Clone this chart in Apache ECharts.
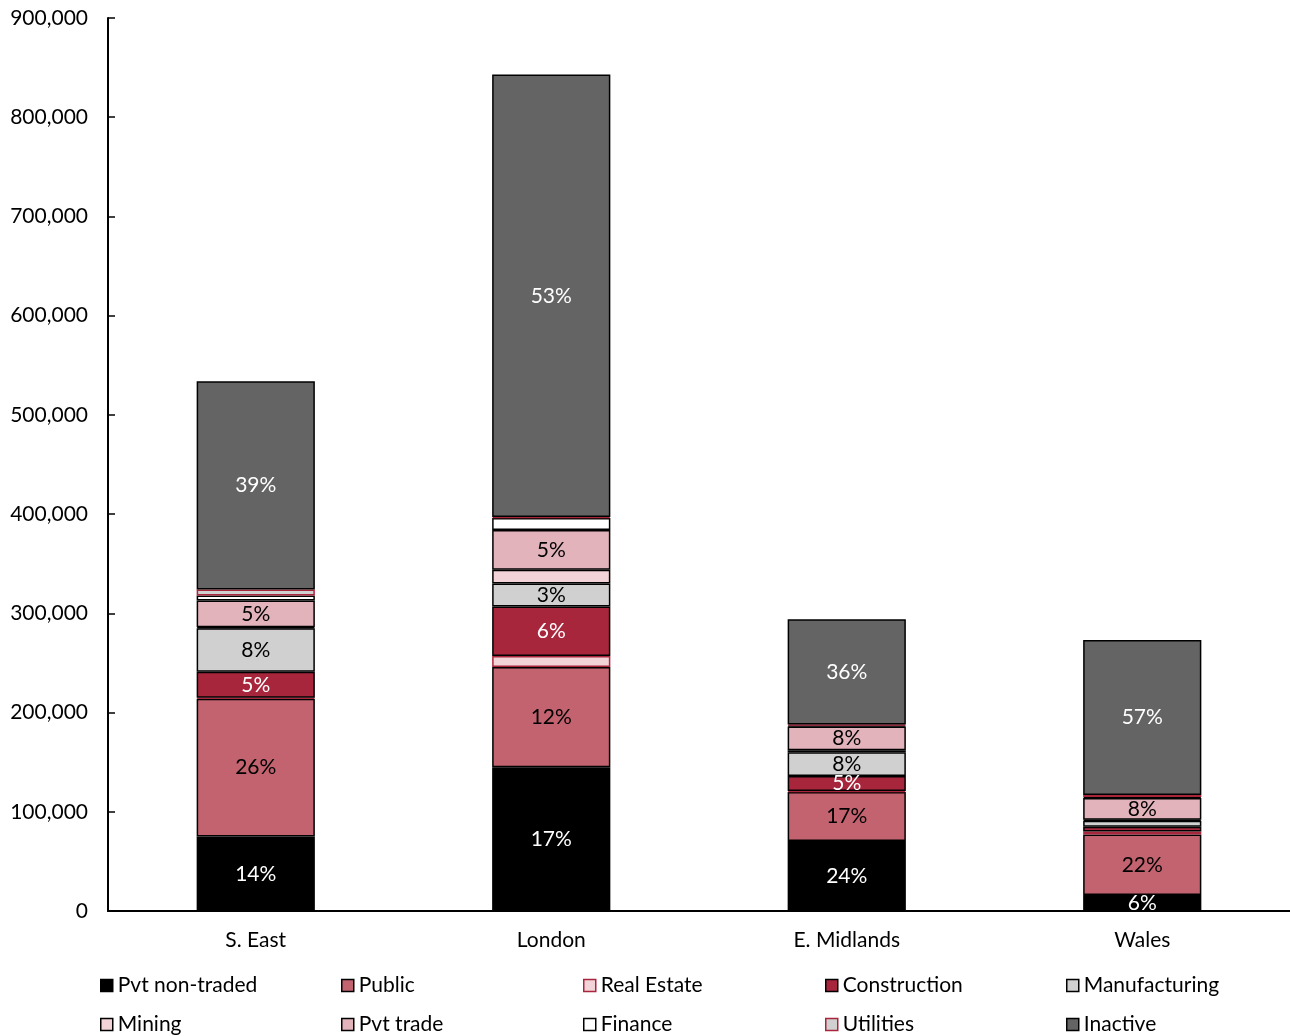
<!DOCTYPE html>
<html>
<head>
<meta charset="utf-8">
<script src="https://cdn.jsdelivr.net/npm/echarts@6/dist/echarts.min.js"></script>
<style>
html,body{margin:0;padding:0;background:#fff;}
#chart{width:1290px;height:1036px;}
</style>
</head>
<body>
<div id="chart"></div>
<script>
var categories = ['S. East', 'London', 'E. Midlands', 'Wales'];
var seriesNames = ['Pvt non-traded', 'Public', 'Real Estate', 'Construction', 'Manufacturing', 'Mining', 'Pvt trade', 'Finance', 'Utilities', 'Inactive'];
var pvtNonTraded  = [75000, 145000, 70500, 16000];
var publicSector  = [139000, 101000, 49500, 61000];
var realEstate    = [1000, 11000, 1000, 3000];
var construction  = [26000, 50000, 15000, 5000];
var manufacturing = [44000, 23000, 24000, 6000];
var mining        = [1000, 14000, 2000, 1000];
var pvtTrade      = [27000, 40000, 24000, 22000];
var finance       = [5000, 12000, 1000, 1000];
var utilities     = [6000, 1000, 1000, 2000];
var inactive      = [210000, 446000, 106000, 156000];
var yTicks = [0, 100000, 200000, 300000, 400000, 500000, 600000, 700000, 800000, 900000];

var allData = [pvtNonTraded, publicSector, realEstate, construction, manufacturing, mining, pvtTrade, finance, utilities, inactive];
var styles = [
  {color: '#000000', border: '#000000', label: '#ffffff'},
  {color: '#c2636f', border: '#000000', label: '#000000'},
  {color: '#f2d3d7', border: '#a8263c', label: '#000000'},
  {color: '#a8263c', border: '#000000', label: '#ffffff'},
  {color: '#d0d0d0', border: '#000000', label: '#000000'},
  {color: '#f2d3d7', border: '#000000', label: '#000000'},
  {color: '#e2b3ba', border: '#000000', label: '#000000'},
  {color: '#ffffff', border: '#000000', label: '#000000'},
  {color: '#d0d0d0', border: '#a8263c', label: '#000000'},
  {color: '#646464', border: '#000000', label: '#ffffff'}
];
var totals = categories.map(function (c, i) {
  return allData.reduce(function (s, arr) { return s + arr[i]; }, 0);
});
var FONT = 'Lato, "Open Sans", sans-serif';
var FS = 21;

var series = seriesNames.map(function (name, k) {
  return {
    name: name,
    type: 'bar',
    stack: 'total',
    barWidth: '40%',
    data: allData[k].map(function (v, i) {
      var pct = v / totals[i] * 100;
      return {value: v, label: {show: pct >= 2.5}};
    }),
    itemStyle: {color: styles[k].color, borderColor: styles[k].border, borderWidth: 1.5},
    label: {
      position: 'inside',
      color: styles[k].label,
      fontFamily: FONT,
      fontSize: FS,
      formatter: function (p) {
        return Math.round(p.value / totals[p.dataIndex] * 100) + '%';
      }
    },
    emphasis: {disabled: true}
  };
});

var colX = [100, 341, 583, 825, 1066];
var legends = seriesNames.map(function (name, k) {
  var row = k < 5 ? 0 : 1;
  return {
    left: colX[k % 5],
    top: row === 0 ? 975 : 1014,
    padding: 0,
    itemWidth: 12,
    itemHeight: 12,
    icon: 'rect',
    selectedMode: false,
    textStyle: {fontFamily: FONT, fontSize: FS, color: '#000', lineHeight: 20},
    data: [{name: name, itemStyle: {color: styles[k].color, borderColor: styles[k].border, borderWidth: 1.5}}]
  };
});

var chart = echarts.init(document.getElementById('chart'), null, {renderer: 'canvas'});
chart.setOption({
  animation: false,
  backgroundColor: '#ffffff',
  grid: {left: 108, right: 0, top: 18, bottom: 125, containLabel: false},
  legend: legends,
  xAxis: {
    type: 'category',
    data: categories,
    axisLine: {lineStyle: {color: '#000', width: 2}},
    axisTick: {show: false},
    axisLabel: {fontFamily: FONT, fontSize: FS, color: '#000', margin: 19}
  },
  yAxis: {
    type: 'value',
    min: yTicks[0],
    max: yTicks[yTicks.length - 1],
    interval: yTicks[1] - yTicks[0],
    axisLine: {show: true, lineStyle: {color: '#000', width: 2}},
    axisTick: {show: true, inside: true, length: 7, lineStyle: {color: '#000', width: 1.5}},
    splitLine: {show: false},
    axisLabel: {
      fontFamily: FONT, fontSize: FS, color: '#000', margin: 20,
      formatter: function (v) { return v.toLocaleString('en-US'); }
    }
  },
  series: series
});
</script>
</body>
</html>
